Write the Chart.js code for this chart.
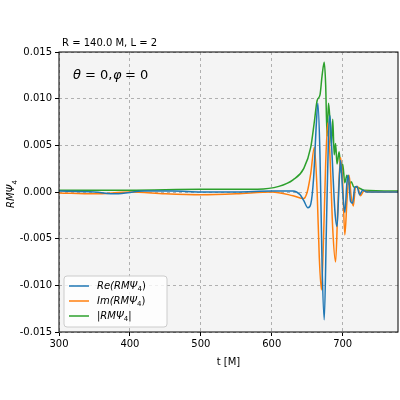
<!DOCTYPE html>
<html>
<head>
<script src="https://cdn.jsdelivr.net/npm/chart.js@4/dist/chart.umd.min.js"></script>
<style>body{margin:0;background:#fff}#wrap{width:400px;height:400px}</style>
</head>
<body>
<div id="wrap"><canvas id="c"></canvas></div>
<script>
const tRe = [300,350,380,420,460,500,550,600,630,640,645,651,655,659,663,665,668,671,674,677,680,682,685,689,692,695,697,700,703,706,708,711,714,717,720,724,728,735,780];
const re = [0.0001,0,-0.0002,0.0001,0.0001,0,0,0.0001,0.0001,-0.0003,-0.0009,-0.0017,-0.0013,0.0015,0.0075,0.0095,0.004,-0.008,-0.0137,-0.004,0.006,0.0082,0.004,-0.002,-0.0037,0.001,0.0034,0,-0.0022,0.001,0.0018,-0.001,-0.0012,0.0005,0.0006,-0.0003,0.0002,0,0];
const tIm = [300,350,400,450,500,550,600,630,645,650,655,660,664,667,670,673,676,679,682,686,690,693,697,700,703,706,709,712,715,718,721,725,730,740,780];
const im = [-0.0001,-0.0002,0,-0.0002,-0.0003,-0.0002,0,-0.0004,-0.0007,0,0.002,0.0048,0,-0.007,-0.0105,-0.005,0.003,0.0074,0.004,-0.004,-0.0075,-0.002,0.0037,0.001,-0.0046,-0.001,0.0018,-0.0005,-0.0015,0.0005,0.0006,-0.0004,0.0001,0,0];
const tAbs = [300,400,500,580,610,630,645,655,660,664,668,671,674,676,678,680,682,684,686,688,690,692,695,698,700,703,706,709,712,716,720,730,780];
const absv = [0.0002,0.0002,0.0003,0.0003,0.0006,0.0013,0.0025,0.0048,0.0075,0.0098,0.0104,0.0125,0.0139,0.0115,0.006,0.0095,0.0078,0.005,0.0078,0.004,0.0052,0.003,0.0043,0.002,0.003,0.001,0.0018,0.0008,0.0011,0.0005,0.0005,0.0002,0.0001];
const xTicks = [300,400,500,600,700];
const yTicks = [-0.015,-0.010,-0.005,0.000,0.005,0.010,0.015];

const pts = (t, v) => t.map((x, i) => ({x, y: v[i]}));
const FONT = 'DejaVu Sans';

const decor = {
  id: 'decor',
  beforeDraw(chart) {
    const {ctx, chartArea: a} = chart;
    ctx.save();
    ctx.fillStyle = '#f4f4f4';
    ctx.fillRect(a.left, a.top, a.right - a.left, a.bottom - a.top);
    ctx.restore();
  },
  afterDraw(chart) {
    const {ctx, chartArea: a} = chart;
    ctx.save();
    ctx.strokeStyle = '#000';
    ctx.lineWidth = 1;
    ctx.strokeRect(a.left, a.top, a.right - a.left, a.bottom - a.top);
    ctx.fillStyle = '#000';
    ctx.font = `10px ${FONT}`;
    ctx.textBaseline = 'alphabetic';
    ctx.fillText('R = 140.0 M, L = 2', 62, 46);
    ctx.font = `italic 13px ${FONT}`;
    ctx.fillText('θ', 73, 79);
    ctx.font = `13px ${FONT}`;
    ctx.fillText('= 0,', 85, 79);
    ctx.font = `italic 13px ${FONT}`;
    ctx.fillText('φ', 113, 79);
    ctx.font = `13px ${FONT}`;
    ctx.fillText('= 0', 125, 79);
    // y label
    ctx.translate(14, 192);
    ctx.rotate(-Math.PI / 2);
    ctx.font = `italic 10px ${FONT}`;
    const w = ctx.measureText('RMΨ').width;
    ctx.fillText('RMΨ', -16, 0);
    ctx.font = `7px ${FONT}`;
    ctx.fillText('4', -16 + w, 3);
    ctx.restore();
    // legend
    ctx.save();
    const lx = 64, ly = 276, lw = 103, lh = 51;
    ctx.fillStyle = 'rgba(255,255,255,0.8)';
    ctx.strokeStyle = '#ccc';
    ctx.beginPath();
    ctx.roundRect(lx, ly, lw, lh, 3);
    ctx.fill(); ctx.stroke();
    const items = [['Re', '#1f77b4', false], ['Im', '#ff7f0e', false], ['', '#2ca02c', true]];
    items.forEach((it, i) => {
      const y = ly + 10 + i * 15;
      ctx.strokeStyle = it[1];
      ctx.lineWidth = 1.5;
      ctx.beginPath(); ctx.moveTo(lx + 5, y); ctx.lineTo(lx + 25, y); ctx.stroke();
      ctx.fillStyle = '#000';
      ctx.textBaseline = 'middle';
      let x = lx + 33;
      const txt = it[2] ? '|RMΨ' : it[0] + '(RMΨ';
      ctx.font = `italic 10px ${FONT}`;
      ctx.fillText(txt, x, y); x += ctx.measureText(txt).width;
      ctx.font = `7px ${FONT}`;
      ctx.fillText('4', x, y + 3); x += ctx.measureText('4').width;
      ctx.font = `10px ${FONT}`;
      ctx.fillText(it[2] ? '|' : ')', x, y);
    });
    ctx.restore();
  }
};

new Chart(document.getElementById('c'), {
  type: 'line',
  data: {
    datasets: [
      {data: pts(tRe, re), borderColor: '#1f77b4'},
      {data: pts(tIm, im), borderColor: '#ff7f0e'},
      {data: pts(tAbs, absv), borderColor: '#2ca02c'}
    ].map(d => Object.assign(d, {borderWidth: 1.5, pointRadius: 0, cubicInterpolationMode: 'monotone', fill: false}))
  },
  options: {
    responsive: true, maintainAspectRatio: false, animation: false,
    layout: {padding: {top: 52, right: 2, bottom: 32, left: 0}},
    plugins: {legend: {display: false}, tooltip: {enabled: false}},
    scales: {
      x: {
        type: 'linear', min: 300, max: 778,
        afterBuildTicks: s => { s.ticks = xTicks.map(v => ({value: v})); },
        afterFit: s => { s.height = 36; },
        ticks: {color: '#000', font: {family: FONT, size: 10}, maxRotation: 0, padding: 2},
        grid: {color: '#b0b0b0', tickColor: '#000', tickLength: 4},
        border: {dash: [3, 3], display: false},
        title: {display: true, text: 't [M]', color: '#000', font: {family: FONT, size: 10}, padding: {top: 2, bottom: 0}}
      },
      y: {
        min: -0.015, max: 0.015,
        afterBuildTicks: s => { s.ticks = yTicks.map(v => ({value: v})); },
        afterFit: s => { s.width = 59; },
        ticks: {color: '#000', font: {family: FONT, size: 10}, callback: v => v.toFixed(3)},
        grid: {color: '#b0b0b0', tickColor: '#000', tickLength: 4},
        border: {dash: [3, 3], display: false}
      }
    }
  },
  plugins: [decor]
});
</script>
</body>
</html>
